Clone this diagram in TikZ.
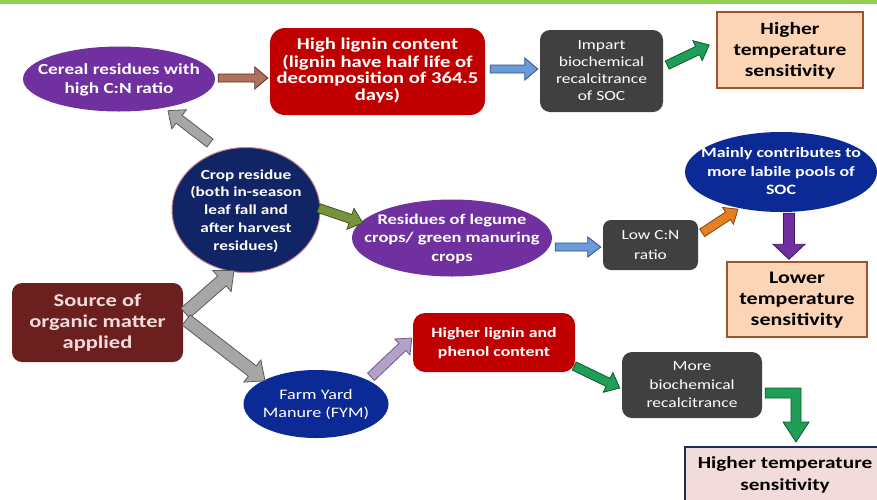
\documentclass[tikz,border=0pt]{standalone}
\usepackage{fontspec}
\setmainfont{Carlito}[FakeStretch=1.25]
\usetikzlibrary{calc,shapes.geometric}
\definecolor{topgreen}{RGB}{146,208,80}
\definecolor{cpurple}{RGB}{112,48,160}
\definecolor{cred}{RGB}{192,0,0}
\definecolor{cgrey}{RGB}{64,64,64}
\definecolor{peach}{RGB}{251,213,181}
\definecolor{peachline}{RGB}{160,82,45}
\definecolor{cnavy}{RGB}{16,36,102}
\definecolor{cblue}{RGB}{12,42,150}
\definecolor{cmaroon}{RGB}{107,31,31}
\definecolor{srctext}{RGB}{242,220,219}
\definecolor{pinkfill}{RGB}{242,220,219}
\definecolor{navyline}{RGB}{31,45,90}
\definecolor{agrey}{RGB}{166,166,166}
\definecolor{agreyd}{RGB}{90,90,90}
\definecolor{abrown}{RGB}{176,113,95}
\definecolor{abrownd}{RGB}{92,46,34}
\definecolor{ablue}{RGB}{106,155,216}
\definecolor{ablued}{RGB}{45,79,134}
\definecolor{agreen}{RGB}{30,158,87}
\definecolor{agreend}{RGB}{13,92,48}
\definecolor{aolive}{RGB}{119,147,60}
\definecolor{aolived}{RGB}{62,80,32}
\definecolor{aorange}{RGB}{230,126,34}
\definecolor{aoranged}{RGB}{138,66,16}
\definecolor{apurpled}{RGB}{59,22,96}
\definecolor{alpurple}{RGB}{179,162,199}
\definecolor{alpurpled}{RGB}{108,90,134}
\newcommand\tx[4]{\makebox[0pt]{\fontsize{#1}{#2}\selectfont#3\raisebox{-0.3em}[0pt][0pt]{\begin{tabular}{@{}c@{}}#4\end{tabular}}}}
\newcommand\barrow[6]{%
 \coordinate (bt) at ($(#3)!#6pt!(#2)$);
 \filldraw[arr,#1] ($(#2)!#4pt!90:(#3)$) -- ($(bt)!#4pt!-90:(#2)$) -- ($(bt)!#5pt!-90:(#2)$) -- (#3) -- ($(bt)!#5pt!90:(#2)$) -- ($(bt)!#4pt!90:(#2)$) -- ($(#2)!#4pt!-90:(#3)$) -- cycle;}
\begin{document}
\begin{tikzpicture}[x=1pt,y=-1pt,
  ell/.style={ellipse, inner sep=0pt, text=white},
  rbox/.style={rectangle, rounded corners=12pt, inner sep=0pt, text=white},
  pbox/.style={rectangle, inner sep=0pt, text=black, fill=peach, draw=peachline, line width=1.5pt},
  arr/.style={line width=0.8pt, line join=miter}]
\useasboundingbox (0,0) rectangle (877,499);
\fill[topgreen] (0,0) rectangle (877,4);

% nodes
\node[ell, fill=cpurple, minimum width=192pt, minimum height=65pt] (cereal) at (119,79)
  {\tx{15.4}{19.5}{\bfseries}{Cereal residues with\\high C:N ratio}};
\node[rbox, fill=cred, minimum width=215pt, minimum height=87pt, rounded corners=15pt] (lignin) at (377.5,71.5)
  {\tx{16.5}{16.5}{\bfseries}{High lignin content\\(lignin have half life of\\decomposition of 364.5\\days)}};
\node[rbox, fill=cgrey, minimum width=123pt, minimum height=82pt, rounded corners=10pt] (impart) at (601.5,71)
  {\tx{14}{17}{}{Impart\\biochemical\\recalcitrance\\of SOC}};
\node[pbox, minimum width=146pt, minimum height=76pt] (hts1) at (790,50)
  {\tx{17.2}{21}{\bfseries}{Higher\\temperature\\sensitivity}};
\node[ell, fill=cnavy, draw={rgb,255:red,200;green,130;blue,140}, line width=1pt, minimum width=148pt, minimum height=125pt] (crop) at (246,210)
  {\tx{13.8}{17.9}{\bfseries}{\rule{0pt}{14pt}Crop residue\\(both in-season\\leaf fall and\\after harvest\\residues)}};
\node[ell, fill=cpurple, minimum width=200pt, minimum height=77pt] (legume) at (452,238)
  {\tx{14.8}{18.5}{\bfseries}{Residues of legume\\crops/ green manuring\\crops}};
\node[rbox, fill=cgrey, minimum width=95pt, minimum height=50pt, rounded corners=8pt] (low) at (650.5,245)
  {\tx{13.9}{20}{}{Low C:N\\ratio}};
\node[ell, fill=cblue, minimum width=192pt, minimum height=80pt] (labile) at (781,172)
  {\tx{14.3}{18.5}{\bfseries}{Mainly contributes to\\more labile pools of\\SOC}};
\node[pbox, minimum width=140pt, minimum height=75pt] (lts) at (797,299.5)
  {\tx{17.6}{21}{\bfseries}{Lower\\temperature\\sensitivity}};
\node[rbox, fill=cmaroon, text=srctext, minimum width=171pt, minimum height=79pt, rounded corners=10pt] (source) at (97.5,322.5)
  {\tx{18}{21}{\bfseries}{Source of\\organic matter\\applied}};
\node[ell, fill=cblue, minimum width=145pt, minimum height=68pt] (fym) at (316,404)
  {\tx{14.5}{18}{}{Farm Yard\\Manure (FYM)}};
\node[rbox, fill=cred, minimum width=162pt, minimum height=59pt, rounded corners=12pt] (phenol) at (494,342.5)
  {\tx{14.2}{19}{\bfseries}{Higher lignin and\\phenol content}};
\node[rbox, fill=cgrey, minimum width=140pt, minimum height=66pt, rounded corners=10pt] (recal) at (692,385)
  {\tx{14}{18.5}{}{More\\biochemical\\recalcitrance}};
\node[rectangle, inner sep=0pt, fill=pinkfill, draw=navyline, line width=2pt, minimum width=200pt, minimum height=54pt] (hts2) at (785,474)
  {\tx{17}{22}{\bfseries}{Higher temperature\\sensitivity}};

% arrow end points
\coordinate (a1s) at ($(cereal.east)+(3,-1)$);
\coordinate (a1e) at ($(lignin.west)+(-2,6.5)$);
\coordinate (a2s) at ($(lignin.east)+(5,-2.5)$);
\coordinate (a2e) at ($(impart.west)+(-2,-2)$);
\coordinate (a3s) at ($(impart.east)+(4,-6)$);
\coordinate (a3e) at ($(hts1.west)+(-7,-5)$);
\coordinate (a4s) at ($(crop.north)+(-36,-4)$);
\coordinate (a4e) at ($(cereal.south)+(49,-1)$);
\coordinate (a5s) at ($(crop.east)+(-2,-2)$);
\coordinate (a5e) at ($(legume.west)+(11,-15)$);
\coordinate (a6s) at ($(legume.east)+(3,9)$);
\coordinate (a6e) at ($(low.west)+(-2,2)$);
\coordinate (a7s) at ($(low.north east)+(4,13)$);
\coordinate (a7e) at ($(labile.south)+(-43,-3)$);
\coordinate (a8s) at ($(labile.south)+(8,1)$);
\coordinate (a8e) at ($(lts.north)+(-8,-2)$);
\coordinate (a9s) at ($(source.east)+(2,-9.5)$);
\coordinate (a9e) at ($(crop.south)+(-12,-2.5)$);
\coordinate (a10s) at ($(source.east)+(3,-2.5)$);
\coordinate (a10e) at ($(fym.north)+(-51,11)$);
\coordinate (a11s) at ($(fym.north)+(55,7)$);
\coordinate (a11e) at ($(phenol.west)+(-1,-4.5)$);
\coordinate (a12s) at ($(phenol.east)+(-1,23.5)$);
\coordinate (a12e) at ($(recal.west)+(-2,3)$);
\coordinate (e0) at ($(recal.east)+(3,8)$);
\coordinate (et) at ($(hts2.north)+(11,-4)$);

% block arrows
\barrow{fill=abrown, draw=abrownd}{a1s}{a1e}{4}{11}{13}
\barrow{fill=ablue, draw=ablued}{a2s}{a2e}{4}{11}{13}
\barrow{fill=agreen, draw=agreend}{a3s}{a3e}{4.5}{11}{13}
\barrow{fill=agrey, draw=agreyd}{a4s}{a4e}{5}{12}{14}
\barrow{fill=aolive, draw=aolived}{a5s}{a5e}{4.5}{11}{13}
\barrow{fill=ablue, draw=ablued}{a6s}{a6e}{4}{10}{13}
\barrow{fill=aorange, draw=aoranged}{a7s}{a7e}{4.5}{10}{12}
\barrow{fill=cpurple, draw=apurpled}{a8s}{a8e}{5.5}{16}{15}
\barrow{fill=agrey, draw=agreyd}{a9s}{a9e}{6.5}{14}{16}
\barrow{fill=agrey, draw=agreyd}{a10s}{a10e}{6.5}{14}{16}
\barrow{fill=alpurple, draw=alpurpled}{a11s}{a11e}{5}{11}{13}
\barrow{fill=agreen, draw=agreend}{a12s}{a12e}{4.5}{11}{13}
\filldraw[arr, fill=agreen, draw=agreend]
  ($(e0)+(0,-5)$) -- ($(et|-e0)+(5,-5)$) -- ($(et)+(5,-20)$) -- ($(et)+(13,-20)$) -- (et)
  -- ($(et)+(-13,-20)$) -- ($(et)+(-5,-20)$) -- ($(et|-e0)+(-5,5)$) -- ($(e0)+(0,5)$) -- cycle;
\end{tikzpicture}
\end{document}
